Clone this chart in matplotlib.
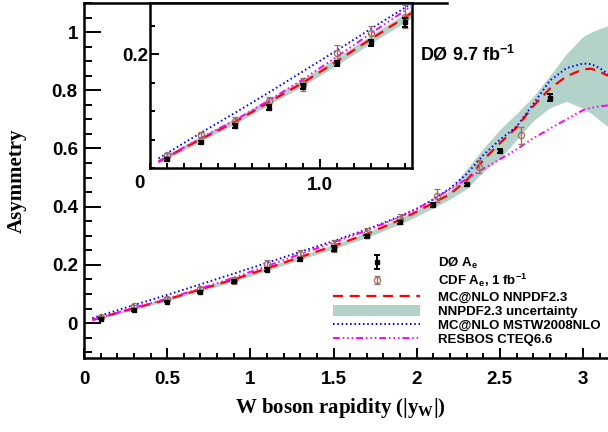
import matplotlib
matplotlib.use("Agg")
import matplotlib.pyplot as plt
import numpy as np
from matplotlib.ticker import MultipleLocator, FixedLocator, FuncFormatter
from matplotlib.patches import Patch
from matplotlib.legend_handler import HandlerErrorbar

plt.rcParams['font.family'] = ['Liberation Sans', 'DejaVu Sans']
plt.rcParams['font.weight'] = 'bold'
plt.rcParams['mathtext.fontset'] = 'custom'
plt.rcParams['mathtext.rm'] = 'Liberation Sans:bold'
plt.rcParams['mathtext.it'] = 'Liberation Sans:bold'
plt.rcParams['mathtext.bf'] = 'Liberation Serif:bold'

# D0 electron asymmetry
d0_x = [0.1, 0.3, 0.5, 0.7, 0.9, 1.1, 1.3, 1.5, 1.7, 1.9, 2.1, 2.3, 2.5, 2.8]
d0_y = [0.015, 0.045, 0.074, 0.106, 0.143, 0.184, 0.220, 0.256, 0.298, 0.346,
        0.406, 0.477, 0.592, 0.775]
d0_err = [0.002, 0.003, 0.003, 0.004, 0.005, 0.004, 0.005, 0.008, 0.005, 0.005,
          0.006, 0.006, 0.007, 0.012]

# CDF electron asymmetry, 1 fb-1
cdf_x = [0.1, 0.3, 0.5, 0.7, 0.9, 1.1, 1.3, 1.5, 1.7, 1.9, 2.125, 2.375, 2.625]
cdf_y = [0.022, 0.058, 0.083, 0.118, 0.147, 0.203, 0.237, 0.266, 0.311, 0.357,
         0.438, 0.538, 0.645]
cdf_err = [0.004, 0.005, 0.006, 0.006, 0.011, 0.013, 0.013, 0.020, 0.015, 0.018,
           0.022, 0.023, 0.029]

# theory curves
th_x = [0.05, 0.3, 0.5, 0.7, 0.9, 1.1, 1.3, 1.5, 1.7, 1.9, 2.0, 2.1, 2.2, 2.3,
        2.4, 2.5, 2.6, 2.7, 2.8, 2.9, 3.0, 3.05, 3.1, 3.15]
nnpdf = [0.011, 0.051, 0.081, 0.116, 0.150, 0.188, 0.227, 0.265, 0.306, 0.355,
         0.383, 0.413, 0.443, 0.490, 0.560, 0.618, 0.672, 0.745, 0.805, 0.848,
         0.872, 0.874, 0.864, 0.850]
nnpdf_lo = [0.007, 0.046, 0.076, 0.110, 0.143, 0.180, 0.218, 0.255, 0.294, 0.340,
            0.367, 0.396, 0.426, 0.462, 0.520, 0.565, 0.630, 0.695, 0.740, 0.762,
            0.738, 0.720, 0.697, 0.675]
nnpdf_hi = [0.015, 0.055, 0.086, 0.121, 0.155, 0.193, 0.232, 0.270, 0.311, 0.360,
            0.389, 0.420, 0.456, 0.530, 0.600, 0.665, 0.720, 0.778, 0.850, 0.925,
            0.985, 1.000, 1.012, 1.022]
mstw = [0.017, 0.062, 0.097, 0.133, 0.170, 0.207, 0.245, 0.282, 0.322, 0.367,
        0.393, 0.425, 0.463, 0.512, 0.577, 0.630, 0.675, 0.752, 0.833, 0.876,
        0.892, 0.890, 0.876, 0.856]
resbos = [0.011, 0.053, 0.084, 0.119, 0.156, 0.196, 0.237, 0.277, 0.318, 0.365,
          0.392, 0.425, 0.460, 0.495, 0.530, 0.563, 0.597, 0.635, 0.668, 0.700,
          0.732, 0.740, 0.745, 0.748]

band_col = '#b2d2ca'
cdf_col = '#9b7060'


def draw(ax):
    ax.fill_between(th_x, nnpdf_lo, nnpdf_hi, color=band_col, lw=0, zorder=1)
    ax.plot(th_x, nnpdf, color='#ff0000', lw=1.6, dashes=(4.5, 3), zorder=3)
    ax.plot(th_x, mstw, color='#0000ff', lw=1.4, dashes=(0.8, 1.4), zorder=3)
    ax.plot(th_x, resbos, color='#ff00ff', lw=1.4,
            dashes=(3.5, 1.5, 0.8, 1.5, 0.8, 1.5, 0.8, 1.5), zorder=3)
    e1 = ax.errorbar(cdf_x, cdf_y, yerr=cdf_err, fmt='o', ms=4.5, mfc='none',
                     mec=cdf_col, mew=0.9, ecolor=cdf_col, elinewidth=1.0,
                     capsize=2.2, capthick=1.0, zorder=4)
    e2 = ax.errorbar(d0_x, d0_y, yerr=d0_err, fmt='s', ms=3.4, color='black',
                     elinewidth=1.4, capsize=2.2, capthick=1.4, zorder=5)
    return e1, e2


fig = plt.figure(figsize=(6.08, 4.32), dpi=100)
ax = fig.add_axes([84 / 608, 74 / 432, 524 / 608, 355 / 432])
e_cdf, e_d0 = draw(ax)

ax.set_xlim(0, 3.15)
ax.set_ylim(-0.12, 1.1)
ax.xaxis.set_major_locator(MultipleLocator(0.5))
ax.xaxis.set_minor_locator(MultipleLocator(0.1))
ax.yaxis.set_major_locator(MultipleLocator(0.2))
ax.yaxis.set_minor_locator(MultipleLocator(0.05))
fmt = FuncFormatter(lambda v, p: '%g' % round(v, 3))
ax.xaxis.set_major_formatter(fmt)
ax.yaxis.set_major_formatter(fmt)
ax.tick_params(which='both', direction='in', width=1.4, labelsize=13.5,
               top=False, right=False)
ax.tick_params(axis='x', which='major', length=7.5, pad=9.5)
ax.tick_params(axis='x', which='minor', length=3.6)
ax.tick_params(axis='y', which='major', length=12, pad=4.5)
ax.tick_params(axis='y', which='minor', length=6)
for s in ax.spines.values():
    s.set_linewidth(1.8)
ax.spines['right'].set_visible(False)
ax.spines['top'].set_bounds(0, 2.18)

ax.set_ylabel('Asymmetry', family='Liberation Serif', fontsize=15, weight='bold')
ax.yaxis.set_label_coords(-0.109, 0.5)
ax.set_xlabel(r'W boson rapidity (|y$_{\mathbf{W}}$|)', family='Liberation Serif',
              fontsize=15, weight='bold')
ax.xaxis.set_label_coords(0.489, -0.108)

ax.text(0.641, 0.839, r'DØ 9.7 fb$^{\mathrm{-1}}$', transform=ax.transAxes,
        fontsize=13, weight='bold', va='baseline')

h_band = Patch(facecolor=band_col, edgecolor='none')
l_nn, l_mstw, l_res = ax.lines[0], ax.lines[1], ax.lines[2]
leg = ax.legend([e_d0, e_cdf, l_nn, h_band, l_mstw, l_res],
                [r'DØ A$_{\mathrm{e}}$', r'CDF A$_{\mathrm{e}}$, 1 fb$^{\mathrm{-1}}$',
                 'MC@NLO NNPDF2.3', 'NNPDF2.3 uncertainty', 'MC@NLO MSTW2008NLO',
                 'RESBOS CTEQ6.6'],
                loc='upper left', bbox_to_anchor=(333 / 608, 1 - 256 / 432),
                bbox_transform=fig.transFigure, frameon=False, fontsize=9.5,
                handlelength=6.6, handleheight=0.9, handletextpad=1.35,
                labelspacing=0.08, borderpad=0, borderaxespad=0,
                handler_map={e_cdf: HandlerErrorbar(yerr_size=0.3)})

# inset
axin = fig.add_axes([150 / 608, 264 / 432, 262 / 608, 165 / 432])
draw(axin)
axin.set_xlim(0, 1.54)
axin.set_ylim(0, 0.29)
axin.xaxis.set_major_locator(FixedLocator([1.0]))
axin.xaxis.set_minor_locator(MultipleLocator(0.1))
axin.yaxis.set_major_locator(FixedLocator([0.2]))
axin.yaxis.set_minor_locator(MultipleLocator(0.05))
axin.xaxis.set_major_formatter(FuncFormatter(lambda v, p: '%.1f' % v))
axin.yaxis.set_major_formatter(FuncFormatter(lambda v, p: '%.1f' % v))
axin.tick_params(which='both', direction='in', width=1.4, labelsize=13.5,
                 top=False, right=False)
axin.tick_params(axis='x', which='major', length=6.5, pad=6.5)
axin.tick_params(axis='x', which='minor', length=3.5)
axin.tick_params(axis='y', which='major', length=6.5, pad=1)
axin.tick_params(axis='y', which='minor', length=3.5)
for s in axin.spines.values():
    s.set_linewidth(1.8)
axin.text(-0.04, -0.04, '0', transform=axin.transAxes, fontsize=13.5,
          weight='bold', ha='center', va='top')

fig.savefig('out.png', dpi=100)
